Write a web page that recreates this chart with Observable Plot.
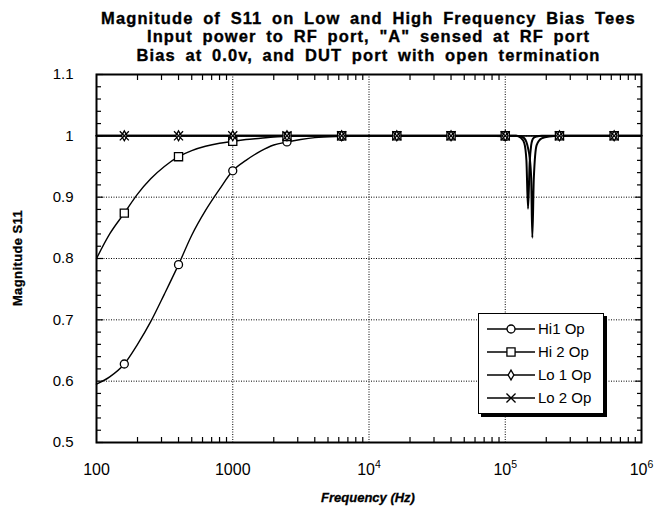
<!DOCTYPE html>
<html><head><meta charset="utf-8">
<script src="https://cdn.jsdelivr.net/npm/d3@7"></script>
<script src="https://cdn.jsdelivr.net/npm/@observablehq/plot@0.6"></script>
<style>
body{margin:0;background:#fff;}
#wrap{position:relative;width:654px;height:508px;font-family:'Liberation Sans',Arial,sans-serif;color:#000;overflow:hidden;}
#wrap svg.chart{position:absolute;left:0;top:0;}
.tl{position:absolute;left:96px;width:545px;text-align:center;font-weight:bold;font-size:16.5px;line-height:18.5px;letter-spacing:1.1px;word-spacing:4px;white-space:nowrap;-webkit-text-stroke:0.35px #000;}
#ylab{position:absolute;left:17px;top:258px;transform:translate(-50%,-50%) rotate(-90deg);font-weight:bold;font-size:13px;letter-spacing:0.4px;white-space:nowrap;-webkit-text-stroke:0.3px #000;}
#xlab{position:absolute;left:368px;top:497px;transform:translate(-50%,-50%);font-weight:bold;font-style:italic;font-size:13px;white-space:nowrap;-webkit-text-stroke:0.3px #000;}
#legend{position:absolute;left:478px;top:313px;width:126px;height:101px;border:1.5px solid #000;box-shadow:3px 3px 0 #000;background:#fff;box-sizing:border-box;}
#legend .row{position:absolute;left:0;height:20px;width:124px;}
#legend .row svg{position:absolute;left:8px;top:0;}
#legend .row span{position:absolute;left:59px;top:1px;font-size:15px;line-height:18px;white-space:nowrap;}
</style></head><body>
<div id="wrap">
  <div class="tl" style="top:8.5px">Magnitude of S11 on Low and High Frequency Bias Tees</div>
  <div class="tl" style="top:27px">Input power to RF port, "A" sensed at RF port</div>
  <div class="tl" style="top:45.5px">Bias at 0.0v, and DUT port with open termination</div>
  <div id="ylab">Magnitude S11</div>
  <div id="xlab">Frequency (Hz)</div>
  <div id="legend"></div>
</div>
<script>
// ---- data ----
const seriesNames = ["Hi1 Op", "Hi 2 Op", "Lo 1 Op", "Lo 2 Op"];
const seriesSymbols = ["circle", "square", "diamond", "times"];
const freq = [100, 125, 160, 200, 250, 315, 400, 500, 630, 800,
  1000, 1250, 1600, 2000, 2500, 3150, 4000, 6300, 10000, 16000,
  25000, 40000, 63000, 100000, 120000, 130000, 138000, 143000, 147000, 151000,
  155000, 158000, 162000, 170000, 185000, 210000, 250000, 400000, 630000, 1000000];
const hi1 = [0.595, 0.607, 0.628, 0.66, 0.697, 0.742, 0.79, 0.838, 0.878, 0.913,
  0.943, 0.96, 0.975, 0.985, 0.99, 0.994, 0.997, 0.999, 1, 1,
  1, 1, 1, 0.999, 1, 1, 1, 1, 1, 1,
  1, 1, 1, 1, 1, 1, 1, 1, 1, 1];
const hi2 = [0.80, 0.84, 0.874, 0.905, 0.93, 0.95, 0.966, 0.976, 0.983, 0.988,
  0.991, 0.994, 0.996, 0.998, 0.999, 1, 1, 1, 1, 1,
  1, 1, 1, 1, 1, 1, 1, 1, 1, 1,
  1, 1, 1, 1, 1, 1, 1, 1, 1, 1];
const lo1 = [1, 1, 1, 1, 1, 1, 1, 1, 1, 1,
  1, 1, 1, 1, 1, 1, 1, 1, 1, 1,
  1, 1, 1, 1, 1, 0.997, 0.988, 0.96, 0.881, 0.955,
  0.985, 0.993, 0.997, 0.999, 1, 1, 1, 1, 1, 1];
const lo2 = [1, 1, 1, 1, 1, 1, 1, 1, 1, 1,
  1, 1, 1, 1, 1, 1, 1, 1, 1, 1,
  1, 1, 1, 1, 1, 0.999, 0.996, 0.99, 0.98, 0.965,
  0.93, 0.834, 0.93, 0.985, 0.996, 0.999, 1, 1, 1, 1];
const markerFreq = [160, 400, 1000, 2500, 6300, 16000, 40000, 100000, 250000, 630000];
const xMajorTicks = [100, 1000, 10000, 100000, 1000000];
const xTickLabels = ["100", "1000", "10^4", "10^5", "10^6"];
const yMajorTicks = [0.5, 0.6, 0.7, 0.8, 0.9, 1.0, 1.1];
const yTickLabels = ["0.5", "0.6", "0.7", "0.8", "0.9", "1", "1.1"];

// ---- table ----
const seriesValues = [hi1, hi2, lo1, lo2];
const rows = [];
seriesNames.forEach((s, si) => freq.forEach((f, i) => rows.push({series: s, freq: f, mag: seriesValues[si][i]})));
const markerSet = new Set(markerFreq);
const markers = rows.filter(d => markerSet.has(d.freq));

const xMinorTicks = [];
[100, 1000, 10000, 100000].forEach(dec => { for (let m = 2; m <= 9; m++) xMinorTicks.push(dec * m); });
const yMinorTicks = d3.range(26, 55).map(v => v / 50).filter(v => Math.abs(v * 10 - Math.round(v * 10)) > 1e-6);
const xInner = xMajorTicks.slice(1, -1);
const yInner = yMajorTicks.slice(1, -1);

const dotted = {stroke: "black", strokeOpacity: 1, strokeWidth: 1, strokeDasharray: "1,1.5"};
const tickStyle = {tickFormat: () => "", label: null, strokeWidth: 1.2};
const markR = {"Hi1 Op": 4, "Hi 2 Op": 4.6, "Lo 1 Op": 3, "Lo 2 Op": 4.2};
const lineW = {"Hi1 Op": 1.4, "Hi 2 Op": 1.4, "Lo 1 Op": 2, "Lo 2 Op": 2};

const chart = Plot.plot({
  width: 654, height: 508,
  marginLeft: 96, marginRight: 13, marginTop: 74, marginBottom: 66,
  style: {fontFamily: "'Liberation Sans', Arial, sans-serif", fontSize: "15px", background: "transparent", color: "black"},
  x: {type: "log", domain: [100, 1e6]},
  y: {domain: [0.5, 1.1]},
  symbol: {domain: seriesNames, range: seriesSymbols},
  marks: [
    Plot.gridX({ticks: xInner, ...dotted}),
    Plot.gridY({ticks: yInner, ...dotted}),
    Plot.axisX({ticks: xMinorTicks, tickSize: -5, anchor: "bottom", ...tickStyle}),
    Plot.axisX({ticks: xMinorTicks, tickSize: -5, anchor: "top", ...tickStyle}),
    Plot.axisY({ticks: yMinorTicks, tickSize: -5, anchor: "left", ...tickStyle}),
    Plot.axisY({ticks: yMinorTicks, tickSize: -5, anchor: "right", ...tickStyle}),
    Plot.axisY({ticks: yMajorTicks, tickSize: -7, anchor: "right", ...tickStyle}),
    Plot.axisY({ticks: yMajorTicks, tickSize: -7, anchor: "left", ...tickStyle}),
    Plot.axisX({ticks: xMajorTicks, tickSize: 0, tickPadding: 21, anchor: "bottom", label: null, fontSize: 16,
      tickFormat: d => xTickLabels[xMajorTicks.indexOf(d)]}),
    Plot.axisY({ticks: yMajorTicks, tickSize: 0, tickPadding: 23, anchor: "left", label: null, fontSize: 15,
      tickFormat: d => yTickLabels[yMajorTicks.findIndex(v => Math.abs(v - d) < 1e-9)]}),
    ...seriesNames.map(s => Plot.line(rows.filter(d => d.series === s), {
      x: "freq", y: "mag", stroke: "black", strokeWidth: lineW[s], curve: "monotone-x"
    })),
    ...seriesNames.map(s => Plot.dot(markers.filter(d => d.series === s), {
      x: "freq", y: "mag", symbol: "series", r: markR[s], fill: s === "Lo 2 Op" ? "none" : "white", stroke: "black", strokeWidth: 1.3
    })),
    Plot.frame({stroke: "black", strokeWidth: 2})
  ]
});
chart.classList.add("chart");
// superscripts on the x tick labels
chart.querySelectorAll('g[aria-label="x-axis tick label"] text').forEach(t => {
  const s = t.textContent;
  if (s.includes("^")) {
    const [b, e] = s.split("^");
    t.textContent = b;
    const ts = document.createElementNS("http://www.w3.org/2000/svg", "tspan");
    ts.setAttribute("dy", "-7");
    ts.setAttribute("font-size", "10.5");
    ts.textContent = e;
    t.appendChild(ts);
  }
});
const wrap = document.getElementById("wrap");
wrap.insertBefore(chart, wrap.firstChild);

// legend
const legend = document.getElementById("legend");
const symMap = {circle: d3.symbolCircle, square: d3.symbolSquare, diamond: d3.symbolDiamond, times: d3.symbolTimes};
seriesNames.forEach((s, i) => {
  const row = document.createElement("div");
  row.className = "row";
  row.style.top = (5 + i * 23) + "px";
  const svg = d3.create("svg").attr("width", 50).attr("height", 20);
  svg.append("line").attr("x1", 0).attr("x2", 48).attr("y1", 10).attr("y2", 10).attr("stroke", "black").attr("stroke-width", 1.4);
  const r = markR[s];
  svg.append("path").attr("transform", "translate(24,10)")
    .attr("d", d3.symbol(symMap[seriesSymbols[i]], r * r * Math.PI)())
    .attr("fill", seriesSymbols[i] === "times" ? "none" : "white").attr("stroke", "black").attr("stroke-width", 1.3);
  row.appendChild(svg.node());
  const sp = document.createElement("span");
  sp.textContent = s;
  row.appendChild(sp);
  legend.appendChild(row);
});
</script>
</body></html>
